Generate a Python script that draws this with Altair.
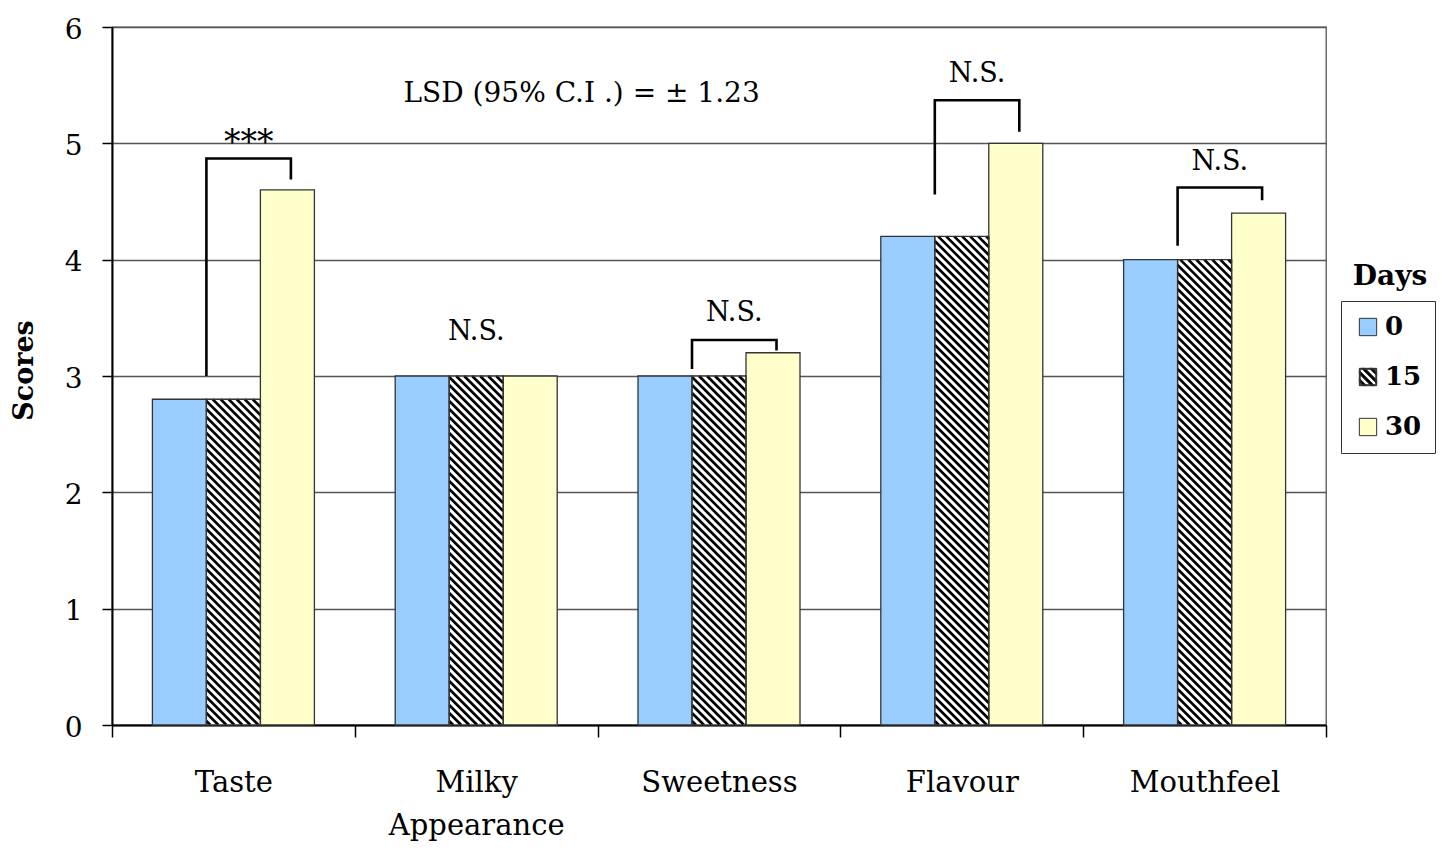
import json
import pandas as pd
import altair as alt

# ---------------- data ----------------
CATEGORIES = ["Taste", "Milky Appearance", "Sweetness", "Flavour", "Mouthfeel"]
TICK_LABELS = [["Taste"], ["Milky", "Appearance"], ["Sweetness"], ["Flavour"], ["Mouthfeel"]]
DAYS = ["0", "15", "30"]
SCORES_DAY0 = [2.8, 3.0, 3.0, 4.2, 4.0]
SCORES_DAY15 = [2.8, 3.0, 3.0, 4.2, 4.0]
SCORES_DAY30 = [4.6, 3.0, 3.2, 5.0, 4.4]

# significance brackets: category index, label, left-leg bottom, bracket top, right-leg bottom, label y
SIG_CATEGORY = [0, 1, 2, 3, 4]
SIG_LABEL = ["***", "N.S.", "N.S.", "N.S.", "N.S."]
SIG_HAS_BRACKET = [True, False, True, True, True]
SIG_LEFT_BOTTOM = [3.00, 0, 3.06, 4.56, 4.12]
SIG_TOP = [4.87, 0, 3.31, 5.37, 4.62]
SIG_RIGHT_BOTTOM = [4.69, 0, 3.22, 5.10, 4.51]
SIG_LABEL_Y = [5.00, 3.38, 3.54, 5.60, 4.84]

LSD_TEXT = ["LSD (95% C.I .) = ± 1.23"]
LSD_X = [1.434]
LSD_Y = [5.424]

LEGEND_TITLE = ["Days"]

# ---------------- layout / style ----------------
W, H = 1214, 698
N_CAT = len(CATEGORIES)
PX = W / N_CAT          # pixels per category unit
PY = H / 6.0            # pixels per score unit
BW = 54 / PX            # bar width in category units
RIGHT_LEG_SHIFT = 3.5 / PX
FONT = "DejaVu Serif"
BLUE = "#99CCFF"
YELLOW = "#FFFFCC"
OUTLINE = "#333333"
BAR_FILL = {"0": BLUE, "15": "#FFFFFF", "30": YELLOW}
HATCH_STEP = 8.0        # px, measured horizontally
HATCH_WIDTH = 2.6

series = {"0": SCORES_DAY0, "15": SCORES_DAY15, "30": SCORES_DAY30}

rows = []
for i, cat in enumerate(CATEGORIES):
    for k, d in enumerate(DAYS):
        c = i + (k - 1) * BW
        rows.append({"category": cat, "day": d, "score": series[d][i],
                     "xc": c, "x0": c - BW / 2, "x1": c + BW / 2, "base": 0.0,
                     "bar_fill": BAR_FILL[d]})
bars = pd.DataFrame(rows)

# hatch segments for the day-15 bars
hrows = []
for _, r in bars[bars["day"] == "15"].iterrows():
    wpx = (r["x1"] - r["x0"]) * PX
    hpx = r["score"] * PY
    c = HATCH_STEP / 2
    while c < wpx + hpx:
        us = max(0.0, c - hpx)
        ue = min(wpx, c)
        hrows.append({"hx": r["x0"] + us / PX, "hy": (c - us) / PY,
                      "hx2": r["x0"] + ue / PX, "hy2": (c - ue) / PY})
        c += HATCH_STEP
hatch = pd.DataFrame(hrows)

# bracket paths and labels
brows, lrows = [], []
for j, ci in enumerate(SIG_CATEGORY):
    xl = ci - BW / 2
    xr = ci + BW + RIGHT_LEG_SHIFT
    if SIG_HAS_BRACKET[j]:
        pts = [(xl, SIG_LEFT_BOTTOM[j]), (xl, SIG_TOP[j]), (xr, SIG_TOP[j]), (xr, SIG_RIGHT_BOTTOM[j])]
        for o, (px_, py_) in enumerate(pts):
            brows.append({"bid": j, "o": o, "bx": px_, "by": py_})
        lx = (xl + xr) / 2
    else:
        lx = ci
    lrows.append({"lx": lx, "ly": SIG_LABEL_Y[j], "label": SIG_LABEL[j],
                  "fsize": 33 if SIG_LABEL[j] == "***" else 27})
brackets = pd.DataFrame(brows)
labels = pd.DataFrame(lrows)
lsd = pd.DataFrame({"lx": LSD_X, "ly": LSD_Y, "t": LSD_TEXT})


# hatched legend symbol (custom path in [-1,1] box)
def clip(poly, a, b, c):
    out = []
    n = len(poly)
    for idx in range(n):
        p, q = poly[idx], poly[(idx + 1) % n]
        fp = a * p[0] + b * p[1] - c
        fq = a * q[0] + b * q[1] - c
        if fp <= 0:
            out.append(p)
        if fp * fq < 0:
            t = fp / (fp - fq)
            out.append((p[0] + t * (q[0] - p[0]), p[1] + t * (q[1] - p[1])))
    return out


def poly_path(poly):
    return "M" + "L".join(f"{x:.3f},{y:.3f}" for x, y in poly) + "Z"


square = [(-1, -1), (1, -1), (1, 1), (-1, 1)]
inner = [(-0.9, -0.9), (-0.9, 0.9), (0.9, 0.9), (0.9, -0.9)]
parts = [poly_path(square), poly_path(inner)]
for cc in [-1.35, -0.45, 0.45, 1.35]:
    d = 0.21
    pol = clip(square, -1, 1, cc + d)
    pol = clip(pol, 1, -1, -(cc - d))
    if len(pol) >= 3:
        parts.append(poly_path(pol))
HATCH_SYMBOL = " ".join(parts)

# ---------------- scales / axes ----------------
X_SCALE = alt.Scale(domain=[-0.5, N_CAT - 0.5], nice=False, zero=False)
Y_SCALE = alt.Scale(domain=[0, 6], nice=False, zero=True)

label_expr = ("abs(datum.value - round(datum.value)) > 0.1 ? '' : "
              + json.dumps(TICK_LABELS) + "[round(datum.value)]")
X_AXIS = alt.Axis(
    title=None,
    values=[v / 2 for v in range(-1, 2 * N_CAT)],
    labelExpr=label_expr,
    tickOpacity={"condition": {"test": "abs(datum.value - round(datum.value)) < 0.1", "value": 0}, "value": 1},
    grid=False, tickSize=12, tickWidth=1.5, tickColor="black",
    domainColor="black", domainWidth=2,
    labelFont=FONT, labelFontSize=29, labelColor="black", labelPadding=31,
    labelLineHeight=43, labelBaseline="top", labelAlign="center",
    labelFlush=False, labelOverlap=False,
)
Y_AXIS = alt.Axis(
    title="Scores", values=[0, 1, 2, 3, 4, 5, 6], format="d",
    grid=True, gridColor="#555555", gridWidth=1.3,
    tickSize=10, tickWidth=1.5, tickColor="black",
    domainColor="black", domainWidth=2,
    labelFont=FONT, labelFontSize=28, labelColor="black", labelPadding=20, labelOffset=3,
    labelFlush=False,
    titleFont=FONT, titleFontSize=27, titleFontWeight="bold", titleColor="black",
    titleX=-88, titleY=343, titleAlign="center", titleBaseline="middle",
)


def X(field):
    return alt.X(field, type="quantitative", scale=X_SCALE, axis=X_AXIS)


def Y(field):
    return alt.Y(field, type="quantitative", scale=Y_SCALE, axis=Y_AXIS)


LEGEND = alt.Legend(
    orient="none", legendX=1229, legendY=274, padding=13,
    strokeColor=OUTLINE, fillColor="white",
    symbolSize=300, symbolStrokeColor=OUTLINE, symbolStrokeWidth=1,
    symbolOpacity=1, symbolOffset=1, labelOffset=4, rowPadding=24,
    labelFont=FONT, labelFontSize=26, labelFontWeight="bold", labelColor="black",
)

# ---------------- layers ----------------
base_bars = alt.Chart(bars)
bar_fill = base_bars.mark_bar(strokeWidth=0).encode(
    x=X("x0"), x2="x1", y=Y("score"), y2="base",
    color=alt.Color("bar_fill:N", scale=None),
)

hatch_layer = alt.Chart(hatch).mark_rule(color="black", strokeWidth=HATCH_WIDTH, strokeCap="butt").encode(
    x=X("hx"), y=Y("hy"), x2="hx2", y2="hy2",
)

bar_outline = base_bars.mark_bar(fillOpacity=0, stroke=OUTLINE, strokeWidth=1.3).encode(
    x=X("x0"), x2="x1", y=Y("score"), y2="base",
)

legend_layer = base_bars.mark_point(filled=True, opacity=0, strokeWidth=1).encode(
    x=X("xc"), y=Y("score"),
    fill=alt.Fill("day:N", title=None, legend=LEGEND,
                  scale=alt.Scale(domain=DAYS, range=[BLUE, "black", YELLOW])),
    shape=alt.Shape("day:N", title=None, legend=LEGEND,
                    scale=alt.Scale(domain=DAYS, range=["square", HATCH_SYMBOL, "square"])),
    stroke=alt.Stroke("day:N", title=None, legend=LEGEND,
                      scale=alt.Scale(domain=DAYS, range=[OUTLINE, OUTLINE, OUTLINE])),
)

bracket_layer = alt.Chart(brackets).mark_line(color="black", strokeWidth=2.6, strokeJoin="miter").encode(
    x=X("bx"), y=Y("by"), detail="bid:N", order="o:Q",
)

label_layer = alt.Chart(labels).mark_text(font=FONT, color="black", baseline="middle", align="center").encode(
    x=X("lx"), y=Y("ly"), text="label:N", size=alt.Size("fsize:Q", scale=None),
)

lsd_layer = alt.Chart(lsd).mark_text(font=FONT, fontSize=28, color="black", baseline="middle", align="center").encode(
    x=X("lx"), y=Y("ly"), text="t:N",
)

legend_title = alt.Chart(pd.DataFrame({"t": LEGEND_TITLE})).mark_text(
    font=FONT, fontSize=28, fontWeight="bold", color="black", baseline="middle", align="center"
).encode(text="t:N", x=alt.value(1278), y=alt.value(250))

chart = alt.layer(
    bar_fill, hatch_layer, bar_outline, legend_layer, bracket_layer, label_layer, lsd_layer, legend_title
).properties(
    width=W, height=H,
    autosize=alt.AutoSizeParams(type="none"),
    padding={"left": 104, "top": 19, "right": 116, "bottom": 122},
    background="white",
).configure_view(stroke="#555555", strokeWidth=1.3)

chart.save("out.html", embed_options={"renderer": "svg", "actions": False})
